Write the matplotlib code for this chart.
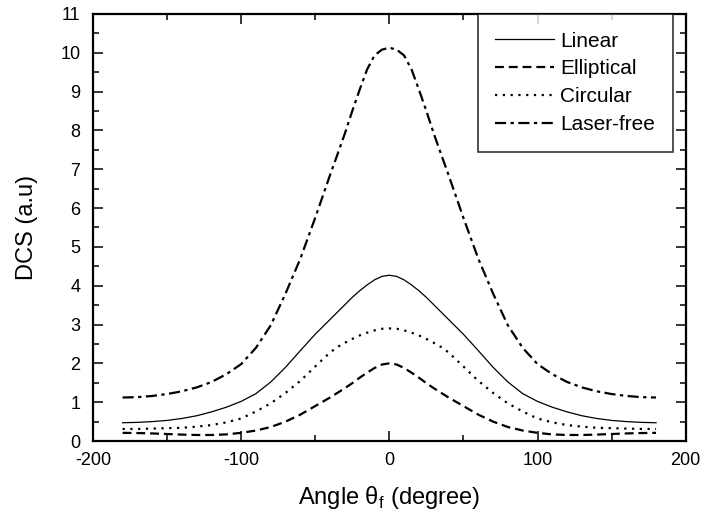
import numpy as np
import matplotlib
matplotlib.use("Agg")
import matplotlib.pyplot as plt
from matplotlib.ticker import MultipleLocator

plt.rcParams['font.family'] = ['Liberation Sans', 'DejaVu Sans']
plt.rcParams['mathtext.fontset'] = 'custom'
plt.rcParams['mathtext.rm'] = 'Liberation Sans'
plt.rcParams['axes.unicode_minus'] = False

# angle grid (degree)
angle = [-180, -170, -160, -150, -140, -130, -120, -110, -100, -90, -80, -70, -60,
         -50, -40, -35, -30, -25, -20, -15, -10, -5, 0, 5, 10, 15, 20, 25, 30, 35,
         40, 50, 60, 70, 80, 90, 100, 110, 120, 130, 140, 150, 160, 170, 180]

dcs_linear = [0.47, 0.48, 0.50, 0.53, 0.58, 0.65, 0.75, 0.87, 1.02, 1.22, 1.52, 1.90,
              2.33, 2.75, 3.13, 3.32, 3.51, 3.70, 3.87, 4.02, 4.15, 4.24, 4.27,
              4.24, 4.15, 4.02, 3.87, 3.70, 3.51, 3.32, 3.13, 2.75, 2.33, 1.90, 1.52,
              1.22, 1.02, 0.87, 0.75, 0.65, 0.58, 0.53, 0.50, 0.48, 0.47]

dcs_elliptical = [0.21, 0.205, 0.195, 0.18, 0.165, 0.155, 0.155, 0.17, 0.21, 0.27, 0.36,
                  0.50, 0.68, 0.90, 1.12, 1.24, 1.36, 1.49, 1.63, 1.76, 1.88, 1.97, 2.00,
                  1.97, 1.88, 1.76, 1.63, 1.49, 1.36, 1.24, 1.12, 0.90, 0.68, 0.50, 0.36,
                  0.27, 0.21, 0.17, 0.155, 0.155, 0.165, 0.18, 0.195, 0.205, 0.21]

dcs_circular = [0.31, 0.31, 0.32, 0.33, 0.34, 0.37, 0.41, 0.48, 0.58, 0.76, 0.97, 1.24,
                1.55, 1.92, 2.28, 2.42, 2.53, 2.63, 2.72, 2.79, 2.85, 2.89, 2.90,
                2.89, 2.85, 2.79, 2.72, 2.63, 2.53, 2.42, 2.28, 1.92, 1.55, 1.24, 0.97,
                0.76, 0.58, 0.48, 0.41, 0.37, 0.34, 0.33, 0.32, 0.31, 0.31]

dcs_laserfree = [1.12, 1.13, 1.16, 1.21, 1.28, 1.38, 1.52, 1.72, 1.98, 2.40, 2.98, 3.80,
                 4.70, 5.75, 6.85, 7.38, 7.92, 8.50, 9.05, 9.57, 9.93, 10.08, 10.13,
                 10.08, 9.93, 9.57, 9.05, 8.50, 7.92, 7.38, 6.85, 5.75, 4.70, 3.80, 2.98,
                 2.40, 1.98, 1.72, 1.52, 1.38, 1.28, 1.21, 1.16, 1.13, 1.12]

fig = plt.figure(figsize=(7.04, 5.17), dpi=100)
ax = fig.add_axes([0.132, 0.147, 0.842, 0.826])

ax.plot(angle, dcs_linear, color='black', lw=0.9, ls='-', label='Linear')
ax.plot(angle, dcs_elliptical, color='black', lw=1.6, ls=(0, (4, 2.2)), label='Elliptical')
ax.plot(angle, dcs_circular, color='black', lw=1.6, ls=(0, (1, 2.5)), label='Circular')
ax.plot(angle, dcs_laserfree, color='black', lw=1.6, ls=(0, (5, 2, 1.5, 2)), label='Laser-free')

ax.set_xlim(-200, 200)
ax.set_ylim(0, 11)
ax.xaxis.set_major_locator(MultipleLocator(100))
ax.xaxis.set_minor_locator(MultipleLocator(50))
ax.yaxis.set_major_locator(MultipleLocator(1))
ax.yaxis.set_minor_locator(MultipleLocator(0.5))
ax.tick_params(which='both', direction='in', top=True, right=True, width=1.1,
               labelsize=13)
ax.tick_params(axis='x', pad=8)
ax.tick_params(axis='y', pad=9)
ax.tick_params(which='major', length=7)
ax.tick_params(which='minor', length=4)
for s in ax.spines.values():
    s.set_linewidth(1.6)

ax.set_xlabel(r'Angle θ$_{\mathrm{f}}$ (degree)', fontsize=17, labelpad=11)
ax.set_ylabel('DCS (a.u)', fontsize=17, labelpad=16)

leg = ax.legend(loc='upper right', bbox_to_anchor=(0.978, 1.0), fontsize=15,
                frameon=True, fancybox=False, edgecolor='black', handlelength=2.8,
                borderaxespad=0, labelspacing=0.42, borderpad=0.85, handletextpad=0.3)
leg.get_frame().set_linewidth(1.2)

fig.savefig('out.png', dpi=100)
